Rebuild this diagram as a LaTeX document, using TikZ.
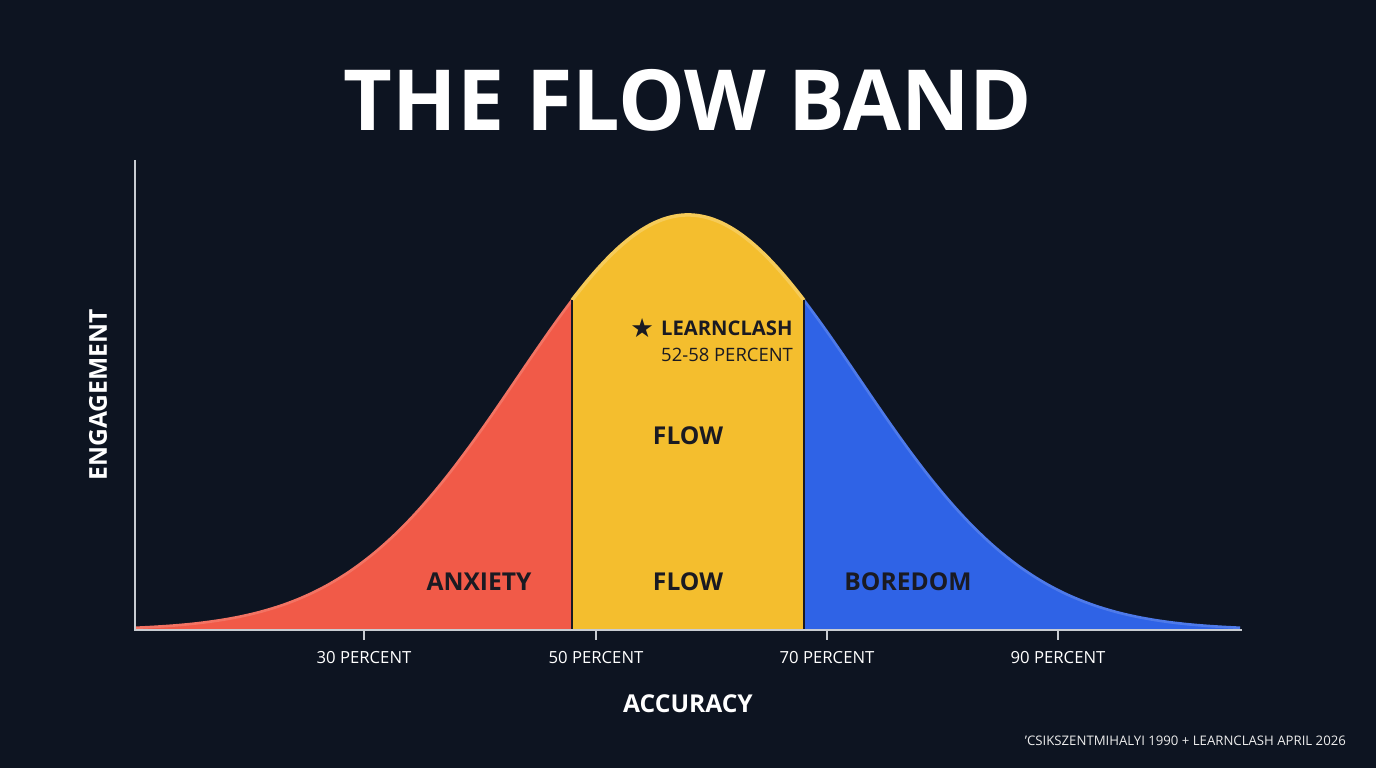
\documentclass[tikz,border=0pt]{standalone}
\usepackage{fontspec}
\setmainfont{Open Sans}
\usepackage{xcolor}
\usetikzlibrary{positioning,calc}
\definecolor{bgdark}{HTML}{0D1421}
\definecolor{anxred}{HTML}{F15A48}
\definecolor{flowyellow}{HTML}{F4BE2E}
\definecolor{boreblue}{HTML}{2F63E6}
\definecolor{inkdark}{HTML}{1A1A22}
\definecolor{axisgray}{HTML}{C8CCD2}

\begin{document}
\begin{tikzpicture}[x=0.02cm, y=0.02cm,
    zone/.style={font=\bfseries\fontsize{14}{17}\selectfont, text=inkdark},
    ticklabel/.style={font=\fontsize{9.5}{12}\selectfont, text=white},
    declare function={bell(\t)=138+415*exp(-((\t-688)/171)^2/2);}]
    % background and frame
    \fill [bgdark] (0,0) rectangle (1376,768);
    \useasboundingbox (0,0) rectangle (1376,768);

    % the three zones under the curve
    \fill [anxred] (135,138) -- plot[domain=135:572, samples=80, smooth] (\x,{bell(\x)}) -- (572,138) -- cycle;
    \fill [flowyellow] (572,138) -- plot[domain=572:804, samples=60, smooth] (\x,{bell(\x)}) -- (804,138) -- cycle;
    \fill [boreblue] (804,138) -- plot[domain=804:1240, samples=80, smooth] (\x,{bell(\x)}) -- (1240,138) -- cycle;
    \draw [line width=2pt, flowyellow!80!white] plot[domain=572:804, samples=60, smooth] (\x,{bell(\x)});
    \draw [line width=1.5pt, anxred!85!white] plot[domain=135:572, samples=80, smooth] (\x,{bell(\x)});
    \draw [line width=1.5pt, boreblue!85!white] plot[domain=804:1240, samples=80, smooth] (\x,{bell(\x)});
    \draw [inkdark, line width=0.8pt] (572,138) -- (572,{bell(572)});
    \draw [inkdark, line width=0.8pt] (804,138) -- (804,{bell(804)});

    % axes
    \coordinate (origin) at (135,138);
    \coordinate (ytop) at (135,608);
    \coordinate (xend) at (1242,138);
    \draw [axisgray, line width=1pt] (ytop) -- (origin) -- (xend);
    \foreach \px/\lab in {364/30, 596/50, 827/70, 1058/90} {
        \draw [axisgray, line width=1pt] (\px,138) -- (\px,128);
        \node [ticklabel] (tick\lab) at (\px,110) {\lab\ PERCENT};
    }

    % titles
    \node (title) [font=\bfseries\fontsize{48}{58}\selectfont, text=white] at (688,668) {THE FLOW BAND};
    \node (xlabel) [font=\bfseries\fontsize{14}{18}\selectfont, text=white] at (688,64) {ACCURACY};
    \node (ylabel) [font=\bfseries\fontsize{14}{18}\selectfont, text=white, rotate=90] at (98,373) {ENGAGEMENT};

    % zone labels
    \node (anxiety) [zone] at (479,186) {ANXIETY};
    \node (flowlow) [zone] at (688,186) {FLOW};
    \node (flowmid) [zone] at (688,332) {FLOW};
    \node (boredom) [zone] at (908,186) {BOREDOM};
    \node (learnclash) [zone, font=\bfseries\fontsize{11.5}{14}\selectfont, anchor=west] at (655,440) {LEARNCLASH};
    \node (learnstar) [text=inkdark, font=\fontsize{15}{15}\selectfont, left=-3pt of learnclash] {\fontspec{DejaVu Sans}★};
    \node (learnrange) [text=inkdark, font=\fontsize{10.5}{13}\selectfont, anchor=north west] at (learnclash.south west) {52-58 PERCENT};

    % source note
    \node (source) [text=white!85!gray, font=\fontsize{7.5}{9}\selectfont, anchor=east] at (1352,27) {'CSIKSZENTMIHALYI 1990 + LEARNCLASH APRIL 2026};
\end{tikzpicture}
\end{document}
